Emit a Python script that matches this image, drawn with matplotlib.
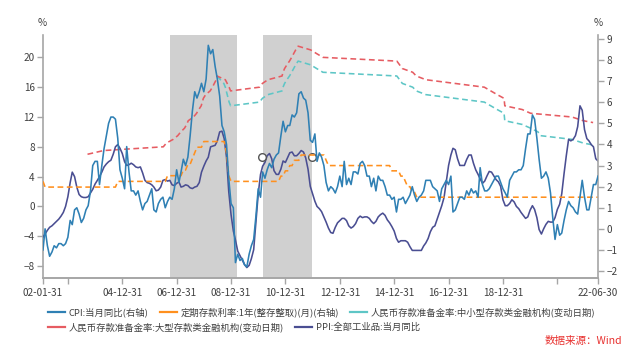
import numpy as np
import pandas as pd
import matplotlib
matplotlib.use("Agg")
import matplotlib.pyplot as plt
from matplotlib.lines import Line2D

plt.rcParams['font.family'] = ['Noto Sans CJK SC', 'DejaVu Sans']

# ---------------- data ----------------
months = pd.date_range("2002-01-31", "2022-06-30", freq="ME")

cpi = [
    -1.0, 0.0, -0.8, -1.3, -1.1, -0.8, -0.9, -0.7, -0.7, -0.8, -0.7, -0.4,   # 2002
    0.4, 0.2, 0.9, 1.0, 0.7, 0.3, 0.5, 0.9, 1.1, 1.8, 3.0, 3.2,              # 2003
    3.2, 2.1, 3.0, 3.8, 4.4, 5.0, 5.3, 5.3, 5.2, 4.3, 2.8, 2.4,              # 2004
    1.9, 3.9, 2.7, 1.8, 1.8, 1.6, 1.8, 1.3, 0.9, 1.2, 1.3, 1.6,              # 2005
    1.9, 0.9, 0.8, 1.2, 1.4, 1.5, 1.0, 1.3, 1.5, 1.4, 1.9, 2.8,              # 2006
    2.2, 2.7, 3.3, 3.0, 3.4, 4.4, 5.6, 6.5, 6.2, 6.5, 6.9, 6.5,              # 2007
    7.1, 8.7, 8.3, 8.5, 7.7, 7.1, 6.3, 4.9, 4.6, 4.0, 2.4, 1.2,              # 2008
    1.0, -1.6, -1.2, -1.5, -1.4, -1.7, -1.8, -1.2, -0.8, -0.5, 0.6, 1.9,     # 2009
    1.5, 2.7, 2.4, 2.8, 3.1, 2.9, 3.3, 3.5, 3.6, 4.4, 5.1, 4.6,              # 2010
    4.9, 4.9, 5.4, 5.3, 5.5, 6.4, 6.5, 6.2, 6.1, 5.5, 4.2, 4.1,              # 2011
    4.5, 3.2, 3.6, 3.4, 3.0, 2.2, 1.8, 2.0, 1.9, 1.7, 2.0, 2.5,              # 2012
    2.0, 3.2, 2.1, 2.4, 2.1, 2.7, 2.7, 2.6, 3.1, 3.2, 3.0, 2.5,              # 2013
    2.5, 2.0, 2.4, 1.8, 2.5, 2.3, 2.3, 2.0, 1.6, 1.6, 1.4, 1.5,              # 2014
    0.8, 1.4, 1.4, 1.5, 1.2, 1.4, 1.6, 2.0, 1.6, 1.3, 1.5, 1.6,              # 2015
    1.8, 2.3, 2.3, 2.3, 2.0, 1.9, 1.8, 1.3, 1.9, 2.1, 2.3, 2.1,              # 2016
    2.5, 0.8, 0.9, 1.2, 1.5, 1.5, 1.4, 1.8, 1.6, 1.9, 1.7, 1.8,              # 2017
    1.5, 2.9, 2.1, 1.8, 1.8, 1.9, 2.1, 2.3, 2.5, 2.5, 2.2, 1.9,              # 2018
    1.7, 1.5, 2.3, 2.5, 2.7, 2.7, 2.8, 2.8, 3.0, 3.8, 4.5, 4.5,              # 2019
    5.4, 5.2, 4.3, 3.3, 2.4, 2.5, 2.7, 2.4, 1.7, 0.5, -0.5, 0.2,             # 2020
    -0.3, -0.2, 0.4, 0.9, 1.3, 1.1, 1.0, 0.8, 0.7, 1.5, 2.3, 1.5,            # 2021
    0.9, 0.9, 1.5, 2.1, 2.1, 2.5,                                            # 2022
]

ppi = [
    -4.1, -3.7, -3.2, -2.8, -2.6, -2.3, -2.0, -1.7, -1.3, -0.8, 0.0, 1.3,    # 2002
    3.2, 4.6, 4.0, 2.6, 1.6, 1.3, 1.2, 1.2, 1.3, 1.8, 2.3, 3.0,              # 2003
    3.5, 4.0, 4.6, 5.3, 5.7, 6.0, 6.2, 7.0, 8.0, 8.3, 7.8, 7.1,              # 2004
    6.0, 5.5, 5.6, 5.8, 5.6, 5.3, 5.2, 5.3, 4.5, 3.5, 3.2, 3.1,              # 2005
    2.9, 2.6, 2.1, 2.2, 2.6, 3.5, 3.6, 3.4, 3.5, 2.9, 2.8, 3.1,              # 2006
    3.3, 2.6, 2.7, 2.9, 2.8, 2.5, 2.4, 2.6, 2.7, 3.2, 4.6, 5.4,              # 2007
    6.1, 6.6, 8.0, 8.1, 8.2, 8.8, 10.0, 10.1, 9.1, 6.6, 2.0, -1.1,           # 2008
    -3.3, -4.5, -6.0, -6.6, -7.2, -7.8, -8.2, -7.9, -7.0, -5.8, -2.1, 1.7,   # 2009
    4.3, 5.4, 5.9, 6.8, 7.1, 6.4, 4.8, 4.3, 4.3, 5.0, 6.1, 5.9,              # 2010
    6.6, 7.2, 7.3, 6.8, 6.8, 7.1, 7.5, 7.3, 6.5, 5.0, 2.7, 1.7,              # 2011
    0.7, 0.0, -0.3, -0.7, -1.4, -2.1, -2.9, -3.5, -3.6, -2.8, -2.2, -1.9,    # 2012
    -1.6, -1.6, -1.9, -2.6, -2.9, -2.7, -2.3, -1.6, -1.3, -1.5, -1.4, -1.4,  # 2013
    -1.6, -2.0, -2.3, -2.0, -1.4, -1.1, -0.9, -1.2, -1.8, -2.2, -2.7, -3.3,  # 2014
    -4.3, -4.8, -4.6, -4.6, -4.6, -4.8, -5.4, -5.9, -5.9, -5.9, -5.9, -5.9,  # 2015
    -5.3, -4.9, -4.3, -3.4, -2.8, -2.6, -1.7, -0.8, 0.1, 1.2, 3.3, 5.5,      # 2016
    6.9, 7.8, 7.6, 6.4, 5.5, 5.5, 5.5, 6.3, 6.9, 6.9, 5.8, 4.9,              # 2017
    4.3, 3.7, 3.1, 3.4, 4.1, 4.7, 4.6, 4.1, 3.6, 3.3, 2.7, 0.9,              # 2018
    0.1, 0.1, 0.4, 0.9, 0.6, 0.0, -0.3, -0.8, -1.2, -1.6, -1.4, -0.5,        # 2019
    0.1, -0.4, -1.5, -3.1, -3.7, -3.0, -2.4, -2.0, -2.1, -2.1, -1.5, -0.4,   # 2020
    0.3, 1.7, 4.4, 6.8, 9.0, 8.8, 9.0, 9.5, 10.7, 13.5, 12.9, 10.3,          # 2021
    9.1, 8.8, 8.3, 8.0, 6.4, 6.1,                                            # 2022
]

# 1-year time deposit rate: change dates and new rate (monthly series, right axis)
dep_dates = ["2002-01-01", "2002-02-21", "2004-10-29", "2006-08-19", "2007-03-18",
             "2007-05-19", "2007-07-21", "2007-08-22", "2007-09-15", "2007-12-21",
             "2008-10-09", "2008-10-30", "2008-11-27", "2008-12-23", "2010-10-20",
             "2010-12-26", "2011-02-09", "2011-04-06", "2011-07-07", "2012-06-08",
             "2012-07-06", "2014-11-22", "2015-03-01", "2015-05-11", "2015-06-28",
             "2015-08-26", "2015-10-24"]
dep_rates = [2.25, 1.98, 2.25, 2.52, 2.79, 3.06, 3.33, 3.60, 3.87, 4.14,
             3.87, 3.60, 2.52, 2.25, 2.50, 2.75, 3.00, 3.25, 3.50, 3.25,
             3.00, 2.75, 2.50, 2.25, 2.00, 1.75, 1.50]

# RRR, large institutions (change dates)
rrr_large_dates = ["2003-09-21", "2004-04-25", "2006-07-05", "2006-08-15", "2006-11-15",
                   "2007-01-15", "2007-02-25", "2007-04-16", "2007-05-15", "2007-06-05",
                   "2007-08-15", "2007-09-25", "2007-10-25", "2007-11-26", "2007-12-25",
                   "2008-01-25", "2008-03-25", "2008-04-25", "2008-05-20", "2008-06-15",
                   "2008-06-25", "2008-10-15", "2008-12-05", "2008-12-25", "2010-01-18",
                   "2010-02-25", "2010-05-10", "2010-11-16", "2010-11-29", "2010-12-20",
                   "2011-01-20", "2011-02-24", "2011-03-25", "2011-04-21", "2011-05-18",
                   "2011-06-20", "2011-12-05", "2012-02-24", "2012-05-18", "2015-02-05",
                   "2015-04-20", "2015-09-06", "2015-10-24", "2016-03-01", "2018-04-25",
                   "2018-10-15", "2019-01-15", "2019-01-25", "2019-09-16", "2020-01-06",
                   "2021-07-15", "2021-12-15", "2022-04-25"]
rrr_large = [7.0, 7.5, 8.0, 8.5, 9.0, 9.5, 10.0, 10.5, 11.0, 11.5,
             12.0, 12.5, 13.0, 13.5, 14.5, 15.0, 15.5, 16.0, 16.5, 17.0,
             17.5, 17.0, 16.0, 15.5, 16.0, 16.5, 17.0, 17.5, 18.0, 18.5,
             19.0, 19.5, 20.0, 20.5, 21.0, 21.5, 21.0, 20.5, 20.0, 19.5,
             18.5, 18.0, 17.5, 17.0, 16.0, 15.0, 14.5, 13.5, 13.0, 12.5,
             12.0, 11.5, 11.25]

# RRR, small & medium institutions (change dates)
rrr_small_dates = ["2008-06-25", "2008-09-25", "2008-10-15", "2008-12-05", "2008-12-25",
                   "2010-01-18", "2010-02-25", "2010-05-10", "2010-11-16", "2010-11-29",
                   "2010-12-20", "2011-01-20", "2011-02-24", "2011-03-25", "2011-04-21",
                   "2011-05-18", "2011-06-20", "2011-12-05", "2012-02-24", "2012-05-18",
                   "2015-02-05", "2015-04-20", "2015-09-06", "2015-10-24", "2016-03-01",
                   "2018-04-25", "2018-10-15", "2019-01-15", "2019-01-25", "2019-09-16",
                   "2020-01-06", "2020-04-15", "2020-05-15", "2021-07-15", "2021-12-15",
                   "2022-04-25"]
rrr_small = [17.5, 16.5, 16.0, 14.0, 13.5, 14.0, 14.5, 15.0, 15.5, 16.0,
             16.5, 17.0, 17.5, 18.0, 18.5, 19.0, 19.5, 19.0, 18.5, 18.0,
             17.5, 16.5, 16.0, 15.5, 15.0, 14.0, 13.0, 12.5, 11.5, 11.0,
             10.5, 10.0, 9.5, 9.0, 8.5, 8.25]

# shaded periods and boundary markers
shade_start = ["2006-09-30", "2010-03-05"]
shade_end = ["2009-03-18", "2011-12-25"]
marker_dates = ["2010-02-24", "2011-12-18"]
marker_vals = [6.6, 6.6]

x_tick_dates = ["2002-01-31", "2002-12-31", "2004-12-31", "2006-12-31", "2008-12-31",
                "2010-12-31", "2012-12-31", "2014-12-31", "2016-12-31", "2018-12-31",
                "2020-12-31", "2022-06-30"]
x_tick_labels = ["02-01-31", "", "04-12-31", "06-12-31", "08-12-31", "10-12-31",
                 "12-12-31", "14-12-31", "16-12-31", "18-12-31", "", "22-06-30"]

# monthly deposit-rate series (rate in force at each month end)
dep_idx = pd.to_datetime(dep_dates)
dep_monthly = [dep_rates[np.searchsorted(dep_idx, m, side="right") - 1] for m in months]

# ---------------- style ----------------
c_cpi = "#2f80b4"
c_dep = "#ff901e"
c_small = "#5ec6c6"
c_large = "#e65c62"
c_ppi = "#4a4e92"
c_axis = "#a6a6a6"
c_text = "#404040"
lw = 1.15
dash = (0, (3.6, 2.2))

fig = plt.figure(figsize=(6.4, 3.54), dpi=100)
ax = fig.add_axes([43 / 640, 1 - 278 / 354, (598 - 43) / 640, (278 - 35) / 354])
ax2 = ax.twinx()

for s, e in zip(shade_start, shade_end):
    ax.axvspan(pd.Timestamp(s), pd.Timestamp(e), color="#d0d0d0", lw=0, zorder=0)

l_small, = ax.plot(pd.to_datetime(rrr_small_dates), rrr_small, color=c_small, lw=lw, ls=dash, zorder=2)
l_large, = ax.plot(pd.to_datetime(rrr_large_dates), rrr_large, color=c_large, lw=lw, ls=dash, zorder=3)
l_ppi, = ax.plot(months, ppi, color=c_ppi, lw=lw, zorder=4)
ax.plot(pd.to_datetime(marker_dates), marker_vals, ls="none", marker="o", ms=5.5,
        mfc="white", mec="#555555", mew=1.0, zorder=6)

l_cpi, = ax2.plot(months, cpi, color=c_cpi, lw=lw, zorder=3)
l_dep, = ax2.plot(months, dep_monthly, color=c_dep, lw=lw, ls=dash, zorder=2)

ax.set_xlim(months[0], months[-1])
ax.set_ylim(-9.6, 23.0)
ax2.set_ylim(-2.33, 9.19)
ax.set_yticks(range(-8, 21, 4))
ax2.set_yticks(range(-2, 10, 1))
ax.set_xticks(pd.to_datetime(x_tick_dates))
ax.set_xticklabels(x_tick_labels)

for a in (ax, ax2):
    a.spines["top"].set_visible(False)
    for sp in ("left", "right", "bottom"):
        a.spines[sp].set_color(c_axis)
        a.spines[sp].set_linewidth(1.2)
    a.tick_params(axis="both", colors=c_axis, labelcolor=c_text, labelsize=7.2,
                  length=4, width=1, pad=2)
ax.spines["right"].set_visible(False)
ax2.spines["left"].set_visible(False)
ax.tick_params(axis="x", pad=3)
ax.patch.set_visible(False)
ax2.set_zorder(ax.get_zorder() + 1)

fig.text(42 / 640, 1 - 23 / 354, "%", ha="center", va="center", fontsize=7.2, color=c_text)
fig.text(598 / 640, 1 - 23 / 354, "%", ha="center", va="center", fontsize=7.2, color=c_text)

def h(c):
    return Line2D([], [], color=c, lw=1.6)

leg_kw = dict(frameon=False, fontsize=6.75, handlelength=1.8, handletextpad=0.4,
              columnspacing=1.2, borderpad=0, borderaxespad=0, labelcolor=c_text,
              loc="center left")
leg1 = fig.legend([h(c_cpi), h(c_dep), h(c_small)],
                  ["CPI:当月同比(右轴)", "定期存款利率:1年(整存整取)(月)(右轴)",
                   "人民币存款准备金率:中小型存款类金融机构(变动日期)"],
                  ncol=3, bbox_to_anchor=(48 / 640, 1 - 312 / 354), **leg_kw)
leg2 = fig.legend([h(c_large), h(c_ppi)],
                  ["人民币存款准备金率:大型存款类金融机构(变动日期)", "PPI:全部工业品:当月同比"],
                  ncol=2, bbox_to_anchor=(48 / 640, 1 - 327 / 354), **leg_kw)

fig.text(622 / 640, 1 - 341 / 354, "数据来源：Wind", ha="right", va="center",
         fontsize=7.6, color="#e8312f")

fig.savefig("out.png", dpi=100)
